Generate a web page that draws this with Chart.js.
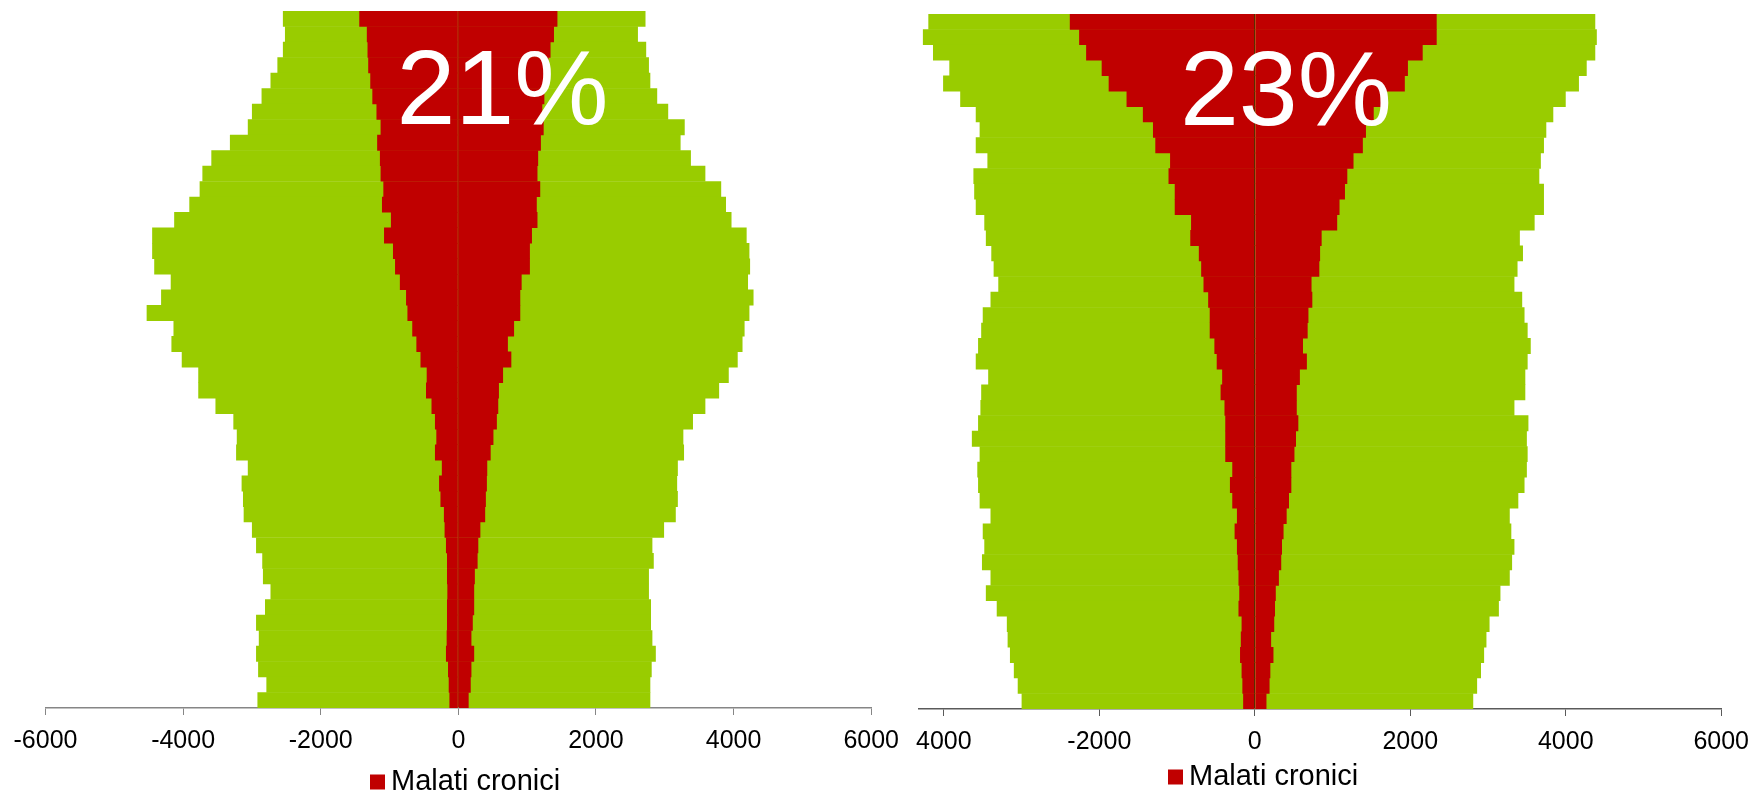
<!DOCTYPE html>
<html lang="it">
<head>
<meta charset="utf-8">
<title>Malati cronici</title>
<script src="https://cdn.jsdelivr.net/npm/chart.js@4.4.1/dist/chart.umd.min.js"></script>
<style>
  html, body { margin: 0; padding: 0; background: #fff; overflow: hidden; }
  canvas { position: absolute; top: 0; }
  #canvasA { left: 0; }
  #canvasB { left: 880px; }
</style>
</head>
<body>
<canvas id="canvasA" width="910" height="797"></canvas>
<canvas id="canvasB" width="880" height="797"></canvas>
<script>
// Fasce dall'alto verso il basso (etichette non mostrate)
const fasce = ['45','44','43','42','41','40','39','38','37','36','35','34','33','32','31',
               '30','29','28','27','26','25','24','23','22','21','20','19','18','17','16',
               '15','14','13','12','11','10','9','8','7','6','5','4','3','2','1'];

// Grafico A (sinistra)
const popMaschiA = [-2550,-2520,-2550,-2630,-2730,-2860,-3000,-3060,-3320,-3590,-3720,-3760,-3910,-4130,-4450,
                    -4450,-4420,-4180,-4320,-4530,-4140,-4170,-4020,-3780,-3780,-3530,-3270,-3220,-3230,-3060,
                    -3150,-3130,-3120,-3000,-2940,-2850,-2840,-2730,-2810,-2940,-2900,-2940,-2910,-2790,-2920];
const popFemmineA = [2720,2610,2730,2770,2790,2890,3050,3290,3230,3380,3590,3820,3890,3970,4190,
                     4230,4240,4210,4290,4230,4160,4130,4060,3930,3790,3590,3410,3270,3280,3190,
                     3180,3190,3160,2990,2820,2840,2770,2770,2800,2800,2820,2870,2810,2790,2790];
const croniciMaschiA = [-1440,-1330,-1320,-1310,-1280,-1250,-1190,-1130,-1180,-1140,-1130,-1090,-1110,-980,-1080,
                        -950,-920,-850,-760,-740,-670,-610,-550,-460,-470,-390,-340,-320,-340,-240,
                        -280,-260,-210,-200,-180,-165,-165,-160,-165,-165,-170,-180,-150,-140,-130];
const croniciFemmineA = [1440,1390,1340,1310,1280,1250,1220,1240,1200,1160,1150,1190,1140,1150,1070,
                         1040,1040,920,900,900,810,720,770,650,590,580,560,510,470,420,
                         415,400,390,320,290,280,240,230,230,210,190,230,190,180,150];

// Grafico B (destra)
const popMaschiB = [-4200,-4270,-4140,-3930,-4010,-3790,-3590,-3540,-3590,-3440,-3620,-3610,-3590,-3480,-3460,
                    -3390,-3360,-3300,-3400,-3500,-3520,-3560,-3590,-3430,-3520,-3530,-3560,-3640,-3540,-3570,
                    -3560,-3540,-3400,-3500,-3480,-3510,-3400,-3460,-3320,-3190,-3180,-3150,-3100,-3050,-3000];
const popFemmineB = [4380,4400,4380,4270,4170,4000,3840,3750,3720,3680,3660,3720,3720,3600,3410,
                     3450,3380,3340,3440,3470,3510,3550,3510,3480,3480,3340,3520,3500,3510,3500,
                     3470,3390,3280,3300,3340,3310,3280,3160,3140,3020,2980,2950,2910,2860,2810];
const croniciMaschiB = [-2380,-2260,-2170,-1970,-1880,-1650,-1440,-1310,-1280,-1090,-1110,-1030,-1030,-820,-830,
                        -720,-690,-660,-600,-580,-580,-520,-490,-420,-440,-390,-380,-380,-380,-290,
                        -320,-290,-230,-260,-230,-220,-210,-200,-210,-170,-180,-190,-170,-160,-150];
const croniciFemmineB = [2340,2340,2160,1970,1930,1700,1530,1430,1390,1270,1190,1160,1090,1060,860,
                         840,830,730,740,690,680,620,670,580,540,540,560,530,510,470,
                         470,440,410,370,350,340,310,270,260,250,210,240,200,190,150];

// Assi
const tickValoriA = [-6000,-4000,-2000,0,2000,4000,6000];
const tickEtichetteA = ['-6000','-4000','-2000','0','2000','4000','6000'];
const tickValoriB = [-4000,-2000,0,2000,4000,6000];
const tickEtichetteB = ['4000','-2000','0','2000','4000','6000'];

const percentualeA = '21%';
const percentualeB = '23%';
const legendaTesto = 'Malati cronici';

const VERDE = '#99CC00';
const ROSSO = '#C00000';
const FONT = '"Liberation Sans", Arial, sans-serif';

// Testo percentuale e legenda disegnati sopra al grafico
const etichettePlugin = {
    id: 'etichette',
    afterDraw(chart, args, opts) {
        const ctx = chart.ctx;
        ctx.save();
        ctx.fillStyle = '#fff';
        ctx.font = '106px ' + FONT;
        ctx.textAlign = 'center';
        ctx.textBaseline = 'alphabetic';
        ctx.fillText(opts.testo, opts.testoX, opts.testoY);

        ctx.fillStyle = ROSSO;
        ctx.fillRect(opts.legendaX, opts.legendaY - 7.5, 15, 15);
        ctx.fillStyle = '#000';
        ctx.font = '29px ' + FONT;
        ctx.textAlign = 'left';
        ctx.textBaseline = 'middle';
        ctx.fillText(legendaTesto, opts.legendaX + 21, opts.legendaY);
        ctx.restore();
    }
};

function serie(dati, colore) {
    return {
        data: dati,
        backgroundColor: colore,
        borderWidth: 0,
        grouped: false,
        categoryPercentage: 1,
        barPercentage: 1.03
    };
}

function creaGrafico(id, cfg) {
    return new Chart(document.getElementById(id), {
        type: 'bar',
        data: {
            labels: fasce,
            // i rossi per primi: vengono disegnati sopra ai verdi
            datasets: [
                serie(cfg.croniciM, ROSSO),
                serie(cfg.croniciF, ROSSO),
                serie(cfg.popM, VERDE),
                serie(cfg.popF, VERDE)
            ]
        },
        options: {
            responsive: false,
            animation: false,
            indexAxis: 'y',
            layout: { padding: cfg.padding },
            scales: {
                x: {
                    type: 'linear',
                    min: cfg.min,
                    max: cfg.max,
                    z: 1,
                    afterBuildTicks: s => { s.ticks = cfg.tickValori.map(v => ({ value: v })); },
                    afterFit: s => { s.height = 50; },
                    ticks: {
                        autoSkip: false,
                        maxRotation: 0,
                        padding: 11,
                        color: '#000',
                        font: { family: FONT, size: 25 },
                        callback: (v, i) => cfg.tickEtichette[i]
                    },
                    grid: {
                        drawOnChartArea: true,
                        color: c => (c.tick && c.tick.value === 0) ? cfg.coloreZero : 'rgba(0,0,0,0)',
                        tickColor: cfg.coloreAsse,
                        tickLength: 7,
                        lineWidth: 1
                    },
                    border: { display: true, color: cfg.coloreAsse, width: 1.5 }
                },
                y: {
                    type: 'category',
                    display: false,
                    offset: true
                }
            },
            plugins: {
                legend: { display: false },
                tooltip: { enabled: false },
                etichette: cfg.etichette
            }
        },
        plugins: [etichettePlugin]
    });
}

creaGrafico('canvasA', {
    popM: popMaschiA, popF: popFemmineA, croniciM: croniciMaschiA, croniciF: croniciFemmineA,
    min: -6000, max: 6000,
    tickValori: tickValoriA, tickEtichette: tickEtichetteA,
    padding: { left: 45.5, right: 36.5, top: 11, bottom: 39 },
    coloreAsse: '#868686',
    coloreZero: '#b30000',
    etichette: { testo: percentualeA, testoX: 502.5, testoY: 124, legendaX: 370, legendaY: 782 }
});

creaGrafico('canvasB', {
    popM: popMaschiB, popF: popFemmineB, croniciM: croniciMaschiB, croniciF: croniciFemmineB,
    min: -4320, max: 6000,
    tickValori: tickValoriB, tickEtichette: tickEtichetteB,
    padding: { left: 39, right: 32.8, top: 14, bottom: 38 },
    coloreAsse: '#5a5a5a',
    coloreZero: '#000000',
    etichette: { testo: percentualeB, testoX: 406, testoY: 125, legendaX: 288, legendaY: 777 }
});
</script>
</body>
</html>
